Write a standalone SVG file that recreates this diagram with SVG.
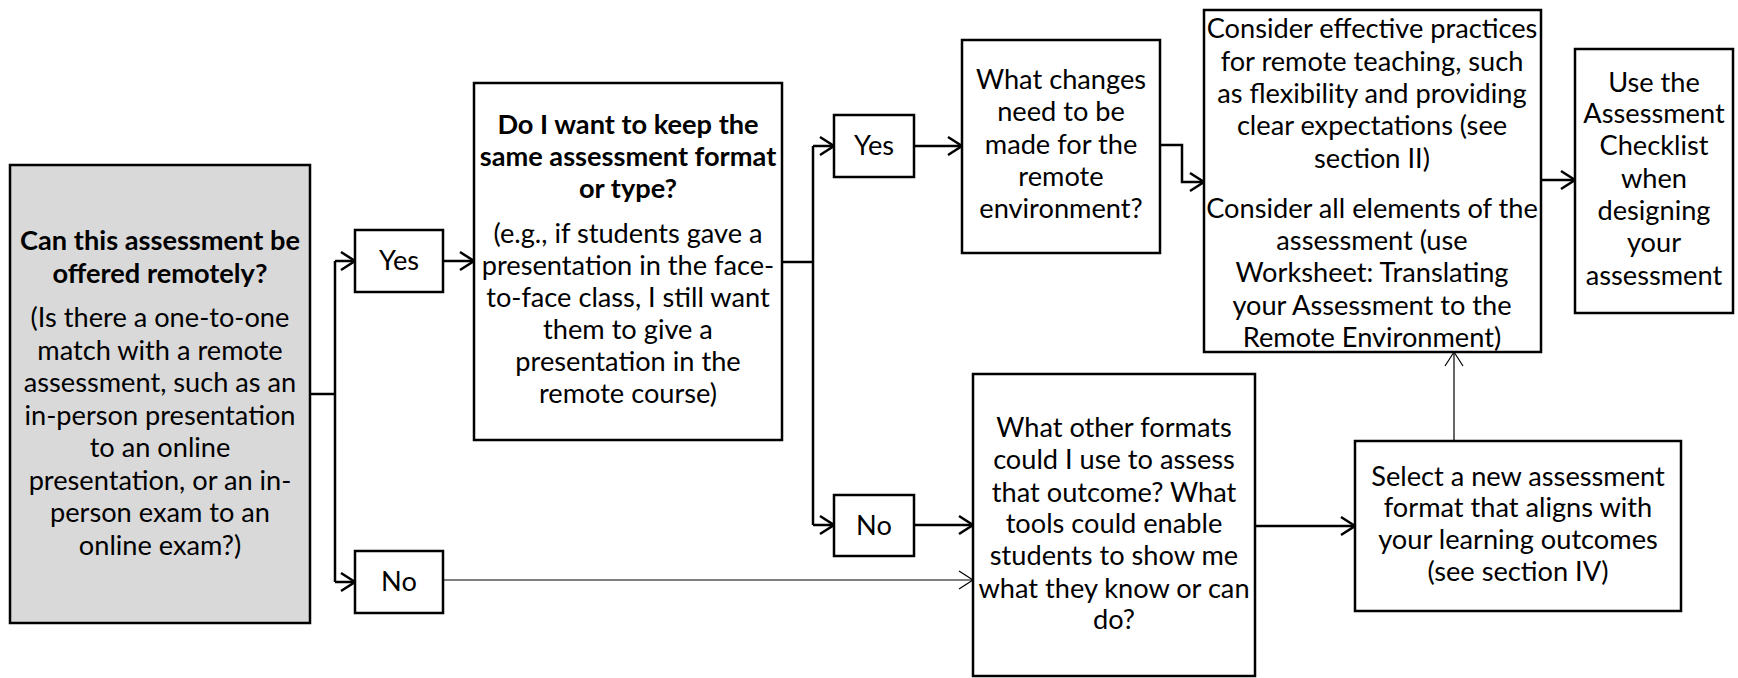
<svg xmlns="http://www.w3.org/2000/svg" width="1738" height="678" viewBox="0 0 1738 678">
<style>
.box{fill:#fff;stroke:#000;stroke-width:2.5}
.gray{fill:#d9d9d9;stroke:#000;stroke-width:2.5}
.t{font-family:Lato,"Open Sans","Liberation Sans",sans-serif;font-size:27.2px;text-anchor:middle;fill:#000}
.b{font-weight:bold}
.c{fill:none;stroke:#000;stroke-width:2.5}
.thin{fill:none;stroke:#000;stroke-width:1.2}
</style>
<defs>
<marker id="ah" viewBox="-16 -11 18 22" markerWidth="18" markerHeight="22" refX="0" refY="0" orient="auto" markerUnits="userSpaceOnUse">
<path d="M-14,-9 L0,0 L-14,9" fill="none" stroke="#000" stroke-width="2.5"/>
</marker>
<marker id="ahThin" viewBox="-16 -11 18 22" markerWidth="18" markerHeight="22" refX="0" refY="0" orient="auto" markerUnits="userSpaceOnUse">
<path d="M-14,-9 L0,0 L-14,9" fill="none" stroke="#000" stroke-width="1.2"/>
</marker>
</defs>
<g id="connectors">
<path class="c" d="M310,394 H335"/>
<path class="c" d="M335,261 V582"/>
<path class="c" d="M335,261 H355" marker-end="url(#ah)"/>
<path class="c" d="M335,582 H355" marker-end="url(#ah)"/>
<path class="c" d="M443,261 H474" marker-end="url(#ah)"/>
<path class="c" d="M782,262 H813"/>
<path class="c" d="M813,146 V525"/>
<path class="c" d="M813,146 H834" marker-end="url(#ah)"/>
<path class="c" d="M813,525 H834" marker-end="url(#ah)"/>
<path class="c" d="M914,146 H962" marker-end="url(#ah)"/>
<path class="c" d="M1160,145 H1182 V182 H1204" marker-end="url(#ah)"/>
<path class="c" d="M1541,180 H1575" marker-end="url(#ah)"/>
<path class="c" d="M914,525 H973" marker-end="url(#ah)"/>
<path class="c" d="M1255,526 H1355" marker-end="url(#ah)"/>
<path class="thin" d="M444,580 H973" marker-end="url(#ahThin)"/>
<path class="thin" d="M1454,441 V352" marker-end="url(#ahThin)"/>
</g>
<g id="q1">
<rect class="gray" x="10" y="165" width="300" height="458"/>
<text class="t b" x="160" y="250">Can this assessment be</text>
<text class="t b" x="160" y="283">offered remotely?</text>
<text class="t" x="160" y="327">(Is there a one-to-one</text>
<text class="t" x="160" y="359.5">match with a remote</text>
<text class="t" x="160" y="392">assessment, such as an</text>
<text class="t" x="160" y="424.5">in-person presentation</text>
<text class="t" x="160" y="457">to an online</text>
<text class="t" x="160" y="489.5">presentation, or an in-</text>
<text class="t" x="160" y="522">person exam to an</text>
<text class="t" x="160" y="554.5">online exam?)</text>
</g>
<g id="yes1">
<rect class="box" x="355" y="230" width="88" height="62"/>
<text class="t" x="399" y="270">Yes</text>
</g>
<g id="no1">
<rect class="box" x="355" y="551" width="88" height="62"/>
<text class="t" x="399" y="591">No</text>
</g>
<g id="q2">
<rect class="box" x="474" y="83" width="308" height="357"/>
<text class="t b" x="628" y="134">Do I want to keep the</text>
<text class="t b" x="628" y="166">same assessment format</text>
<text class="t b" x="628" y="198">or type?</text>
<text class="t" x="628" y="243">(e.g., if students gave a</text>
<text class="t" x="628" y="275">presentation in the face-</text>
<text class="t" x="628" y="307">to-face class, I still want</text>
<text class="t" x="628" y="339">them to give a</text>
<text class="t" x="628" y="371">presentation in the</text>
<text class="t" x="628" y="403">remote course)</text>
</g>
<g id="yes2">
<rect class="box" x="834" y="115" width="80" height="62"/>
<text class="t" x="874" y="155">Yes</text>
</g>
<g id="no2">
<rect class="box" x="834" y="495" width="80" height="61"/>
<text class="t" x="874" y="535">No</text>
</g>
<g id="changes">
<rect class="box" x="962" y="40" width="198" height="213"/>
<text class="t" x="1061" y="89">What changes</text>
<text class="t" x="1061" y="121">need to be</text>
<text class="t" x="1061" y="154">made for the</text>
<text class="t" x="1061" y="186">remote</text>
<text class="t" x="1061" y="218">environment?</text>
</g>
<g id="consider">
<rect class="box" x="1204" y="10" width="337" height="342"/>
<text class="t" x="1372" y="38">Consider effective practices</text>
<text class="t" x="1372" y="71">for remote teaching, such</text>
<text class="t" x="1372" y="103">as flexibility and providing</text>
<text class="t" x="1372" y="135">clear expectations (see</text>
<text class="t" x="1372" y="168">section II)</text>
<text class="t" x="1372" y="218">Consider all elements of the</text>
<text class="t" x="1372" y="250">assessment (use</text>
<text class="t" x="1372" y="282">Worksheet: Translating</text>
<text class="t" x="1372" y="315">your Assessment to the</text>
<text class="t" x="1372" y="347">Remote Environment)</text>
</g>
<g id="checklist">
<rect class="box" x="1575" y="49" width="158" height="264"/>
<text class="t" x="1654" y="92">Use the</text>
<text class="t" x="1654" y="123">Assessment</text>
<text class="t" x="1654" y="155">Checklist</text>
<text class="t" x="1654" y="188">when</text>
<text class="t" x="1654" y="220">designing</text>
<text class="t" x="1654" y="252">your</text>
<text class="t" x="1654" y="285">assessment</text>
</g>
<g id="other">
<rect class="box" x="973" y="374" width="282" height="302"/>
<text class="t" x="1114" y="437">What other formats</text>
<text class="t" x="1114" y="469">could I use to assess</text>
<text class="t" x="1114" y="502">that outcome? What</text>
<text class="t" x="1114" y="533">tools could enable</text>
<text class="t" x="1114" y="565">students to show me</text>
<text class="t" x="1114" y="598">what they know or can</text>
<text class="t" x="1114" y="629">do?</text>
</g>
<g id="select">
<rect class="box" x="1355" y="441" width="326" height="170"/>
<text class="t" x="1518" y="486">Select a new assessment</text>
<text class="t" x="1518" y="517">format that aligns with</text>
<text class="t" x="1518" y="549">your learning outcomes</text>
<text class="t" x="1518" y="581">(see section IV)</text>
</g>
</svg>
